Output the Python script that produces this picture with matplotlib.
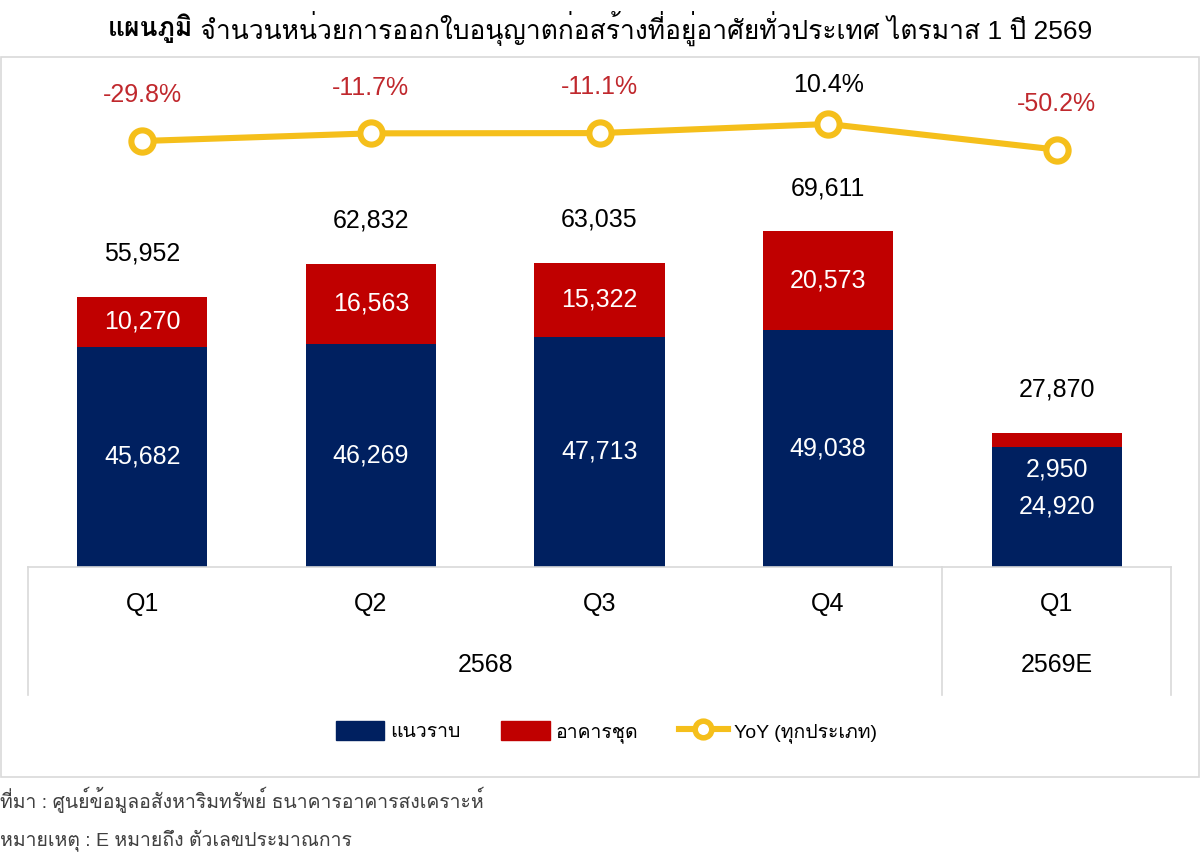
import matplotlib
matplotlib.use("Agg")
import matplotlib.pyplot as plt
from matplotlib.patches import Patch, Rectangle
from matplotlib.lines import Line2D
import numpy as np

FONTS = ["Liberation Sans", "Loma", "Noto Sans Thai Looped", "DejaVu Sans"]
plt.rcParams["font.family"] = FONTS

# data
quarters = ["Q1", "Q2", "Q3", "Q4", "Q1"]
years = ["2568", "2569E"]
flat = [45682, 46269, 47713, 49038, 24920]      # แนวราบ
condo = [10270, 16563, 15322, 20573, 2950]      # อาคารชุด
totals = [55952, 62832, 63035, 69611, 27870]
yoy = [-29.8, -11.7, -11.1, 10.4, -50.2]

NAVY = "#002060"
RED = "#C00000"
GOLD = "#F5BF1B"
NEG = "#C0282D"
GRID = "#D9D9D9"
FS = 18

W, H = 1200, 864
fig = plt.figure(figsize=(12, 8.64), dpi=100)

# outer frame
fig.add_artist(Rectangle((1 / W, 1 - 777 / H), 1198 / W, 720 / H,
                         transform=fig.transFigure, fill=False,
                         edgecolor=GRID, lw=1.2))

ax_left, ax_right = 28 / W, 1171 / W
ax_bot, ax_top = 1 - 567 / H, 1 - 57 / H
ax = fig.add_axes([ax_left, ax_bot, ax_right - ax_left, ax_top - ax_bot])
x = np.arange(len(quarters))
ax.set_xlim(-0.5, 4.5)
ax.set_ylim(0, 105700)

bw = 0.57
ax.bar(x, flat, bw, color=NAVY, zorder=2)
ax.bar(x, condo, bw, bottom=flat, color=RED, zorder=2)

for i in range(len(x)):
    ax.annotate(f"{totals[i]:,}", (x[i], totals[i]), xytext=(0, 31),
                textcoords="offset points", ha="center", va="center",
                fontsize=FS, color="black")
    ax.text(x[i], flat[i] / 2, f"{flat[i]:,}", ha="center", va="center",
            fontsize=FS, color="white", zorder=3)
    if condo[i] > 5000:
        ax.text(x[i], flat[i] + condo[i] / 2, f"{condo[i]:,}", ha="center",
                va="center", fontsize=FS, color="white", zorder=3)
    else:
        # segment too thin: label sits just under it, inside the navy part
        ax.annotate(f"{condo[i]:,}", (x[i], flat[i]), xytext=(0, -16.5),
                    textcoords="offset points", ha="center", va="center",
                    fontsize=FS, color="white", zorder=3)

for s in ["top", "right", "left"]:
    ax.spines[s].set_visible(False)
ax.spines["bottom"].set_color(GRID)
ax.spines["bottom"].set_linewidth(1.2)
ax.set_yticks([])
ax.set_xticks([])

# category table under the bars
tr = ax.get_xaxis_transform()
for xv in [-0.5, 3.5, 4.5]:
    ax.plot([xv, xv], [0, -0.251], transform=tr, color=GRID, lw=1.2,
            clip_on=False)
for i, q in enumerate(quarters):
    ax.text(x[i], -0.0725, q, transform=tr, ha="center", va="center",
            fontsize=FS)
ax.text(1.5, -0.192, years[0], transform=tr, ha="center", va="center",
        fontsize=FS)
ax.text(4, -0.192, years[1], transform=tr, ha="center", va="center",
        fontsize=FS)

# YoY line on secondary axis
ax2 = ax.twinx()
ax2.set_ylim(-1036.9, 168.8)
ax2.axis("off")
ax2.plot(x, yoy, color=GOLD, lw=4.4, marker="o", ms=16,
         mfc="white", mec=GOLD, mew=4.4, zorder=4)
for i, v in enumerate(yoy):
    ax2.annotate(f"{v:.1f}%", (x[i], v), xytext=(0, 33 if v < 0 else 28),
                 textcoords="offset points", ha="center", va="center",
                 fontsize=FS, color=NEG if v < 0 else "black")

# legend
handles = [Patch(color=NAVY), Patch(color=RED),
           Line2D([], [], color=GOLD, lw=4.4, marker="o", ms=12,
                  mfc="white", mec=GOLD, mew=4)]
fig.legend(handles, ["แนวราบ", "อาคารชุด", "YoY (ทุกประเภท)"],
           loc="center", bbox_to_anchor=(0.505, 1 - 732 / H), ncol=3,
           frameon=False, fontsize=14, handlelength=2.5, handleheight=1.15,
           columnspacing=2.1, handletextpad=0.3)

# title: bold lead word plus normal text
t1 = fig.text(0, 1 - 28 / H, "แผนภูมิ", fontsize=19, fontweight="bold",
              va="center", ha="left")
t2 = fig.text(0, 1 - 28 / H, " จำนวนหน่วยการออกใบอนุญาตก่อสร้างที่อยู่อาศัยทั่วประเทศ ไตรมาส 1 ปี 2569",
              fontsize=19, va="center", ha="left")
fig.canvas.draw()
r = fig.canvas.get_renderer()
w1 = t1.get_window_extent(r).width
w2 = t2.get_window_extent(r).width
start = (W - w1 - w2) / 2
t1.set_x(start / W)
t2.set_x((start + w1) / W)

# notes
fig.text(0 / W, 1 - 800 / H,
         "ที่มา : ศูนย์ข้อมูลอสังหาริมทรัพย์ ธนาคารอาคารสงเคราะห์",
         fontsize=14, color="#404040", va="center", ha="left")
fig.text(0 / W, 1 - 840 / H, "หมายเหตุ : E หมายถึง ตัวเลขประมาณการ",
         fontsize=14, color="#404040", va="center", ha="left")

fig.savefig("out.png", dpi=100)
